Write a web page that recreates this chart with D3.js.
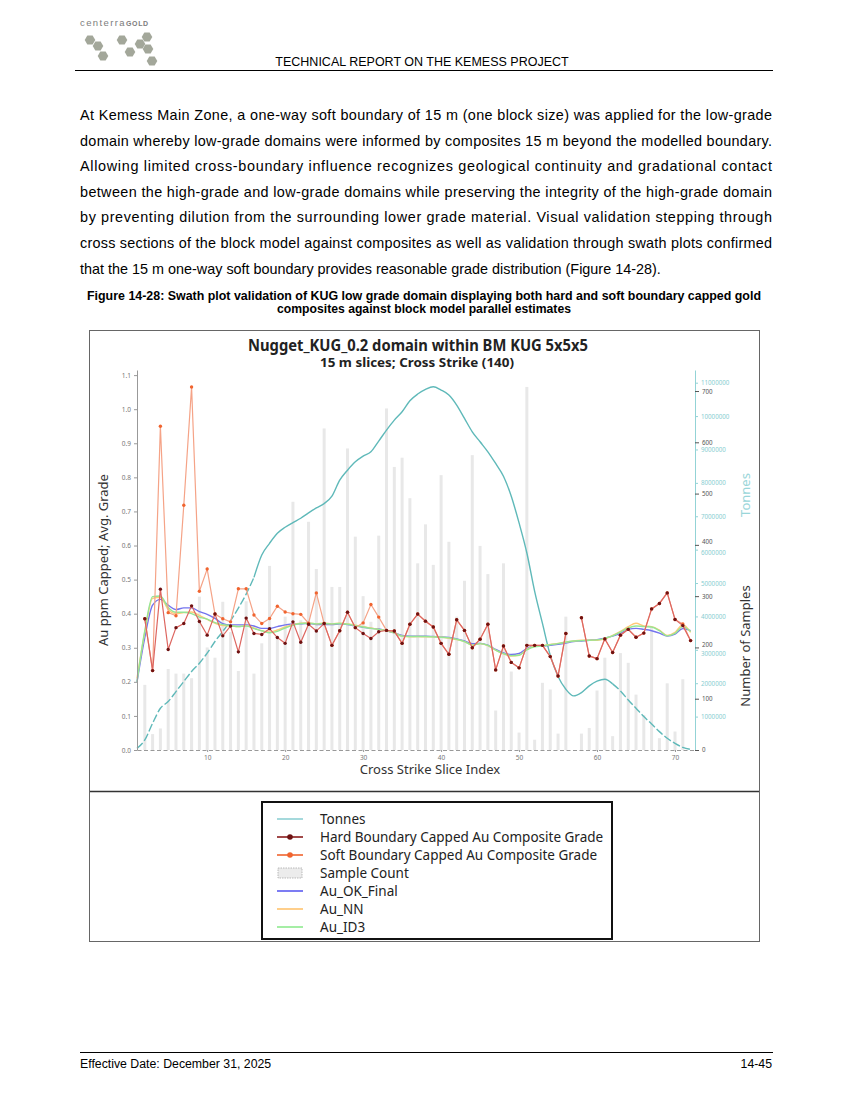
<!DOCTYPE html>
<html>
<head>
<meta charset="utf-8">
<script src="https://cdn.jsdelivr.net/npm/d3@7"></script>
<style>
  body { margin: 0; background: #fff; }
  text { font-family: "Liberation Sans", Arial, sans-serif; }
  .chart text { font-family: "Noto Sans", "Open Sans", sans-serif; }
</style>
</head>
<body>
<svg id="page" width="849" height="1100"></svg>
<script>

// slice index along cross strike
var slices = d3.range(1, 73);

// number of samples per slice (grey bars)
var sampleCount = [0, 127, 31, 42, 158, 149, 149, 140, 299, 200,
  180, 289, 230, 154, 290, 149, 208, 359, 221, 260,
  484, 253, 445, 353, 627, 318, 318, 588, 416, 300,
  250, 418, 666, 552, 570, 491, 364, 440, 361, 536,
  406, 260, 330, 575, 398, 343, 77, 364, 153, 34,
  708, 20, 131, 118, 32, 260, 0, 32, 43, 116,
  180, 27, 189, 170, 108, 68, 240, 23, 130, 36,
  138, 0];

// tonnes per slice (millions)
var tonnes = [0.05, 0.3, 0.8, 1.25, 1.45, 1.75, 2.05, 2.35, 2.6, 2.9,
  3.25, 3.55, 3.87, 4.25, 4.67, 5.17, 5.84, 6.19, 6.49, 6.67,
  6.81, 6.94, 7.1, 7.25, 7.38, 7.6, 8.08, 8.38, 8.63, 8.8,
  8.93, 9.25, 9.58, 9.88, 10.13, 10.46, 10.66, 10.8, 10.88, 10.78,
  10.63, 10.33, 9.93, 9.53, 9.23, 8.93, 8.58, 8.2, 7.6, 6.8,
  5.9, 4.75, 3.79, 2.84, 2.2, 1.82, 1.62, 1.72, 1.92, 2.06,
  2.12, 1.98, 1.77, 1.5, 1.25, 1.0, 0.78, 0.55, 0.35, 0.2,
  0.08, 0.02];

// capped composite grades
var hardGrade = [null, .385, .233, .472, .295, .359, .371, .423, .377, .337,
  .399, .335, .364, .288, .387, .342, .339, .356, .330, .313,
  .376, .316, .369, .349, .371, .307, .350, .404, .359, .342,
  .327, .347, .351, .349, .313, .369, .399, .378, .361, .313,
  .281, .382, .351, .300, .325, .369, .235, .305, .257, .241,
  .307, .307, .307, .274, .217, .342, null, .388, .276, .268,
  .326, .286, .337, .354, .331, .343, .414, .430, .461, .383,
  .365, .321];

var softGrade = [null, .385, .233, .950, .403, .394, .718, 1.065, .466, .531,
  .399, .385, .376, .473, .473, .396, .371, .386, .422, .405,
  .400, .398, .372, .461, .371, .307, .350, .404, .359, .373,
  .427, .390, .351, .349, .313, .369, .399, .378, .361, .313,
  .281, .382, .351, .300, .325, .369, .235, .305, .257, .241,
  .307, .307, .307, .274, .217, .342, null, .388, .276, .268,
  .326, .286, .337, .354, .331, .343, .414, .430, .461, .383,
  .370, .321];

// block model estimates
var auOK = [.200, .330, .425, .442, .425, .412, .417, .417, .406, .398,
  .386, .371, .367, .367, .367, .364, .357, .357, .362, .367,
  .370, .370, .372, .368, .368, .368, .370, .368, .364, .360,
  .357, .355, .350, .344, .336, .334, .334, .334, .333, .332,
  .330, .326, .320, .312, .313, .308, .295, .285, .280, .283,
  .298, .305, .305, .307, .310, .314, .318, .320, .322, .324,
  .328, .334, .342, .354, .357, .354, .350, .343, .334, .340,
  .356, .350];

var auNN = [.210, .345, .445, .448, .412, .400, .403, .405, .395, .383,
  .372, .365, .364, .362, .365, .358, .350, .346, .352, .361,
  .368, .372, .373, .370, .372, .370, .372, .370, .366, .362,
  .358, .354, .350, .344, .334, .332, .333, .332, .332, .331,
  .328, .324, .318, .308, .312, .306, .293, .282, .276, .278,
  .295, .305, .306, .310, .313, .317, .320, .322, .322, .322,
  .326, .336, .348, .362, .372, .364, .362, .352, .336, .345,
  .368, .345];

var auID3 = [.200, .350, .450, .452, .418, .404, .404, .400, .390, .384,
  .374, .368, .365, .362, .364, .356, .350, .344, .348, .358,
  .366, .371, .372, .370, .371, .370, .371, .369, .365, .361,
  .357, .354, .350, .344, .334, .333, .333, .333, .332, .331,
  .329, .325, .318, .308, .312, .307, .293, .283, .277, .278,
  .294, .303, .305, .309, .312, .316, .320, .321, .322, .323,
  .328, .335, .346, .358, .364, .362, .361, .350, .335, .342,
  .362, .348];

// tick labels
var gradeTicks = [0, 0.1, 0.2, 0.3, 0.4, 0.5, 0.6, 0.7, 0.8, 0.9, 1.0, 1.1];
var sliceTicks = [10, 20, 30, 40, 50, 60, 70];
var sampleTicks = [0, 100, 200, 300, 400, 500, 600, 700];
var tonneTicks = [1, 2, 3, 4, 5, 6, 7, 8, 9, 10, 11];

var svg = d3.select("#page");

// ---------- page furniture ----------
var page = svg.append("g");

// logo
page.append("text")
    .attr("x", 80).attr("y", 26)
    .style("font-size", "9.5px").style("letter-spacing", "1.4px").style("fill", "#7d7d7d")
    .text("centerra")
  .append("tspan")
    .style("font-size", "7px").style("font-weight", "bold").style("letter-spacing", "0.6px")
    .text("GOLD");

var hexes = [[90, 40], [98, 46], [122, 40], [140, 44], [147, 37], [148, 49], [103, 56], [130, 52], [152, 61]];
var hexPath = function(c, r) {
  var pts = d3.range(6).map(function(k) {
    var a = Math.PI / 3 * k;
    return [c[0] + r * Math.cos(a), c[1] + r * Math.sin(a)];
  });
  return d3.line()(pts) + "Z";
};
page.selectAll(".hex").data(hexes).enter().append("path")
    .attr("class", "hex")
    .attr("d", function(d) { return hexPath(d, 5.3); })
    .style("fill", "#a3a79a");

page.append("text")
    .attr("x", 422).attr("y", 66)
    .attr("text-anchor", "middle")
    .style("font-size", "12.5px")
    .text("TECHNICAL REPORT ON THE KEMESS PROJECT");

page.append("line")
    .attr("x1", 75).attr("x2", 773).attr("y1", 70.5).attr("y2", 70.5)
    .style("stroke", "#000").style("stroke-width", 1);

var para = [
  "At Kemess Main Zone, a one-way soft boundary of 15 m (one block size) was applied for the low-grade",
  "domain whereby low-grade domains were informed by composites 15 m beyond the modelled boundary.",
  "Allowing limited cross-boundary influence recognizes geological continuity and gradational contact",
  "between the high-grade and low-grade domains while preserving the integrity of the high-grade domain",
  "by preventing dilution from the surrounding lower grade material. Visual validation stepping through",
  "cross sections of the block model against composites as well as validation through swath plots confirmed",
  "that the 15 m one-way soft boundary provides reasonable grade distribution (Figure 14-28)."
];
para.forEach(function(line, k) {
  var t = page.append("text")
      .attr("x", 80).attr("y", 120 + k * 25.6)
      .style("font-size", "14.4px")
      .text(line);
  if (k < para.length - 1) t.attr("textLength", 692).attr("lengthAdjust", "spacing");
});

page.append("text")
    .attr("x", 424).attr("y", 300)
    .attr("text-anchor", "middle")
    .attr("textLength", 674).attr("lengthAdjust", "spacingAndGlyphs")
    .style("font-size", "12.2px").style("font-weight", "bold")
    .text("Figure 14-28: Swath plot validation of KUG low grade domain displaying both hard and soft boundary capped gold");
page.append("text")
    .attr("x", 424).attr("y", 313)
    .attr("text-anchor", "middle")
    .style("font-size", "12.2px").style("font-weight", "bold")
    .text("composites against block model parallel estimates");

page.append("line")
    .attr("x1", 80).attr("x2", 773).attr("y1", 1052.5).attr("y2", 1052.5)
    .style("stroke", "#000").style("stroke-width", 1);
page.append("text")
    .attr("x", 80).attr("y", 1068)
    .style("font-size", "12.3px")
    .text("Effective Date: December 31, 2025");
page.append("text")
    .attr("x", 772).attr("y", 1068)
    .attr("text-anchor", "end")
    .style("font-size", "12.3px")
    .text("14-45");

// ---------- chart ----------
var chart = svg.append("g").attr("class", "chart");

chart.append("rect")
    .attr("x", 89.5).attr("y", 330.5).attr("width", 670).attr("height", 611)
    .style("fill", "none").style("stroke", "#666").style("stroke-width", 1);
chart.append("line")
    .attr("x1", 90).attr("x2", 759).attr("y1", 791.5).attr("y2", 791.5)
    .style("stroke", "#333").style("stroke-width", 1.5);

var x = d3.scaleLinear().domain([1, 72.5]).range([137, 694.5]);
var y = d3.scaleLinear().domain([0, 1.115]).range([750, 370]);
var ySamp = d3.scaleLinear().domain([0, 741]).range([750, 370]);
var yTon = d3.scaleLinear().domain([0, 11.38]).range([750, 370]);

var rows = slices.map(function(s, k) {
  return {i: s, n: sampleCount[k], t: tonnes[k], hard: hardGrade[k], soft: softGrade[k],
          ok: auOK[k], nn: auNN[k], id3: auID3[k]};
});

// sample count bars
chart.selectAll(".bar")
    .data(rows.filter(function(d) { return d.n > 0; }))
  .enter().append("rect")
    .attr("class", "bar")
    .attr("x", function(d) { return x(d.i) - 1.5; })
    .attr("width", 3)
    .attr("y", function(d) { return ySamp(d.n); })
    .attr("height", function(d) { return ySamp(0) - ySamp(d.n); })
    .style("fill", "#e8e8e8");

// tonnes
var tonLine = d3.line()
    .x(function(d) { return x(d.i); })
    .y(function(d) { return yTon(d.t); })
    .curve(d3.curveMonotoneX);
chart.append("path")
    .datum(rows.filter(function(d) { return d.i <= 16; }))
    .attr("d", tonLine)
    .style("fill", "none").style("stroke", "#5fb9b9").style("stroke-width", 1.4)
    .style("stroke-dasharray", "8,2.5");
chart.append("path")
    .datum(rows.filter(function(d) { return d.i >= 16 && d.i <= 62; }))
    .attr("d", tonLine)
    .style("fill", "none").style("stroke", "#5fb9b9").style("stroke-width", 1.4);
chart.append("path")
    .datum(rows.filter(function(d) { return d.i >= 62; }))
    .attr("d", tonLine)
    .style("fill", "none").style("stroke", "#5fb9b9").style("stroke-width", 1.4)
    .style("stroke-dasharray", "8,2.5");

// block model estimate lines
var models = [
  {key: "ok", color: "#7474ee"},
  {key: "nn", color: "#ffc978"},
  {key: "id3", color: "#95e695"}
];
models.forEach(function(m) {
  chart.append("path")
      .datum(rows)
      .attr("d", d3.line()
        .x(function(d) { return x(d.i); })
        .y(function(d) { return y(d[m.key]); })
        .curve(d3.curveMonotoneX))
      .style("fill", "none").style("stroke", m.color).style("stroke-width", 1.4);
});

// composite grade lines
var gradeLine = function(key) {
  return d3.line()
    .defined(function(d) { return d[key] != null; })
    .x(function(d) { return x(d.i); })
    .y(function(d) { return y(d[key]); });
};
chart.append("path")
    .datum(rows)
    .attr("d", gradeLine("soft"))
    .style("fill", "none").style("stroke", "#f5a387").style("stroke-width", 1.2);
chart.selectAll(".softdot")
    .data(rows.filter(function(d) { return d.soft != null; }))
  .enter().append("circle")
    .attr("class", "softdot")
    .attr("cx", function(d) { return x(d.i); })
    .attr("cy", function(d) { return y(d.soft); })
    .attr("r", 1.7)
    .style("fill", "#f0642f");
chart.append("path")
    .datum(rows)
    .attr("d", gradeLine("hard"))
    .style("fill", "none").style("stroke", "#dd6660").style("stroke-width", 1.2);
chart.selectAll(".harddot")
    .data(rows.filter(function(d) { return d.hard != null; }))
  .enter().append("circle")
    .attr("class", "harddot")
    .attr("cx", function(d) { return x(d.i); })
    .attr("cy", function(d) { return y(d.hard); })
    .attr("r", 1.7)
    .style("fill", "#6e1212");

// axes
var leftAxis = chart.append("g")
    .attr("transform", "translate(137,0)")
    .call(d3.axisLeft(y).tickValues(gradeTicks).tickFormat(d3.format(".1f")).tickSize(3).tickSizeOuter(0));
leftAxis.select(".domain").style("stroke", "#999");
leftAxis.selectAll(".tick line").style("stroke", "#999");
leftAxis.selectAll("text").style("font-size", "6.5px").style("fill", "#777");

var bottomAxis = chart.append("g")
    .attr("transform", "translate(0,750)")
    .call(d3.axisBottom(x).tickValues(sliceTicks).tickSize(2).tickSizeOuter(0));
bottomAxis.select(".domain").style("stroke", "#999").style("stroke-dasharray", "4,2.5");
bottomAxis.selectAll(".tick line").style("stroke", "#999");
bottomAxis.selectAll("text").style("font-size", "6.5px").style("fill", "#777");

// tonnes labels that collide with sample labels are nudged down a little
var tonAxis = chart.append("g")
    .attr("transform", "translate(695,0)")
    .call(d3.axisRight(yTon).tickValues(tonneTicks)
      .tickFormat(function(d) { return d3.format("d")(d * 1e6); })
      .tickSize(3).tickSizeOuter(0));
tonAxis.select(".domain").style("stroke", "#93d3d6");
tonAxis.selectAll(".tick line").style("stroke", "#93d3d6");
tonAxis.selectAll("text").style("font-size", "6.2px").style("fill", "#88cdd1")
    .attr("dy", function(d) { return (d === 3 || d === 6) ? "0.85em" : "0.32em"; });

var sampAxis = chart.append("g")
    .attr("transform", "translate(695,0)")
    .call(d3.axisRight(ySamp).tickValues(sampleTicks).tickSize(4).tickSizeOuter(0));
sampAxis.select(".domain").remove();
sampAxis.selectAll(".tick line").style("stroke", "#555");
sampAxis.selectAll("text").style("font-size", "6.2px").style("fill", "#555")
    .attr("dy", function(d) { return (d === 200 || d === 400) ? "-0.2em" : "0.32em"; });

// titles and axis labels
chart.append("text")
    .attr("x", 418).attr("y", 351)
    .attr("text-anchor", "middle")
    .attr("textLength", 340).attr("lengthAdjust", "spacingAndGlyphs")
    .style("font-size", "16px").style("font-weight", "bold").style("fill", "#222")
    .text("Nugget_KUG_0.2 domain within BM KUG 5x5x5");
chart.append("text")
    .attr("x", 417).attr("y", 367)
    .attr("text-anchor", "middle")
    .attr("textLength", 194).attr("lengthAdjust", "spacingAndGlyphs")
    .style("font-size", "12.5px").style("font-weight", "bold").style("fill", "#222")
    .text("15 m slices; Cross Strike (140)");
chart.append("text")
    .attr("x", 430).attr("y", 774)
    .attr("text-anchor", "middle")
    .style("font-size", "13px").style("fill", "#333")
    .text("Cross Strike Slice Index");
chart.append("text")
    .attr("transform", "translate(108,560) rotate(-90)")
    .attr("text-anchor", "middle")
    .style("font-size", "13px").style("fill", "#333")
    .text("Au ppm Capped; Avg. Grade");
chart.append("text")
    .attr("transform", "translate(750,495) rotate(-90)")
    .attr("text-anchor", "middle")
    .style("font-size", "13px").style("fill", "#9ad6d9")
    .text("Tonnes");
chart.append("text")
    .attr("transform", "translate(750,646) rotate(-90)")
    .attr("text-anchor", "middle")
    .style("font-size", "13px").style("fill", "#333")
    .text("Number of Samples");

// legend
var legendItems = [
  {name: "Tonnes", color: "#8fd0d4", type: "line"},
  {name: "Hard Boundary Capped Au Composite Grade", color: "#8a1c1c", dot: "#6e1212", type: "dot"},
  {name: "Soft Boundary Capped Au Composite Grade", color: "#f0642f", dot: "#f0642f", type: "dot"},
  {name: "Sample Count", color: "#e6e6e6", type: "box"},
  {name: "Au_OK_Final", color: "#5c5cf0", type: "line"},
  {name: "Au_NN", color: "#ffc46e", type: "line"},
  {name: "Au_ID3", color: "#8fea8f", type: "line"}
];
var legend = chart.append("g");
legend.append("rect")
    .attr("x", 262).attr("y", 802).attr("width", 350).attr("height", 137)
    .style("fill", "#fff").style("stroke", "#111").style("stroke-width", 2);
var li = legend.selectAll(".li").data(legendItems).enter().append("g")
    .attr("transform", function(d, k) { return "translate(0," + (819 + k * 18) + ")"; });
li.filter(function(d) { return d.type !== "box"; }).append("line")
    .attr("x1", 277).attr("x2", 303)
    .style("stroke", function(d) { return d.color; }).style("stroke-width", 1.6);
li.filter(function(d) { return d.type === "dot"; }).append("circle")
    .attr("cx", 290).attr("r", 2.8)
    .style("fill", function(d) { return d.dot; });
li.filter(function(d) { return d.type === "box"; }).append("rect")
    .attr("x", 278).attr("y", -5).attr("width", 24).attr("height", 10)
    .style("fill", "#ececec").style("stroke", "#aaa").style("stroke-width", 0.8)
    .style("stroke-dasharray", "1.5,1");
li.append("text")
    .attr("x", 320).attr("y", 5)
    .style("font-size", "13.5px").style("fill", "#222")
    .text(function(d) { return d.name; });

</script>
</body>
</html>
